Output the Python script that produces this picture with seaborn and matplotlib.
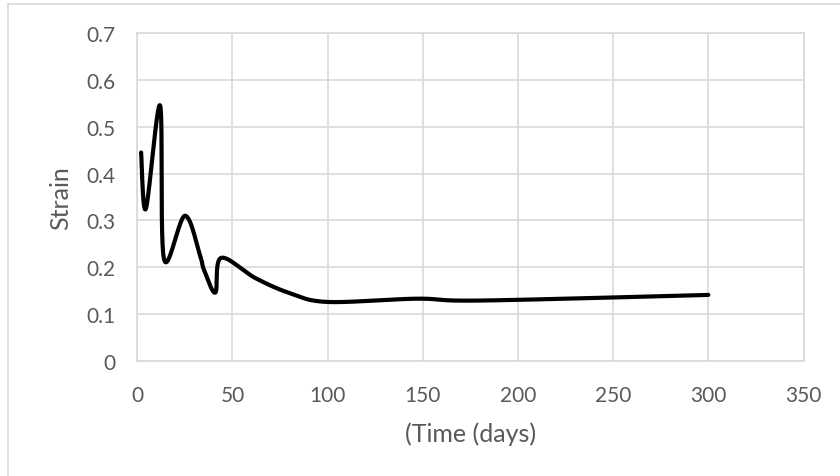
import numpy as np
import pandas as pd
import seaborn as sns
import matplotlib.pyplot as plt
from matplotlib.lines import Line2D

# Data
days = [2, 4.5, 12, 14, 25, 33, 35, 41, 44, 62, 80, 100, 147, 180, 300]
strain = [0.445, 0.325, 0.545, 0.218, 0.31, 0.225, 0.195, 0.146, 0.22, 0.177, 0.145, 0.126, 0.133, 0.129, 0.141]
x_ticks = [0, 50, 100, 150, 200, 250, 300, 350]
y_ticks = [0, 0.1, 0.2, 0.3, 0.4, 0.5, 0.6, 0.7]
y_tick_labels = ["0", "0.1", "0.2", "0.3", "0.4", "0.5", "0.6", "0.7"]


def excel_smooth(xs, ys, n=80):
    """Excel-style smoothed line (Catmull-Rom Bezier through the data points)."""
    P = np.column_stack([xs, ys]).astype(float)
    out = []
    t = np.linspace(0, 1, n)[:, None]
    for i in range(len(P) - 1):
        p0 = P[i - 1] if i > 0 else P[i]
        p1 = P[i]
        p2 = P[i + 1]
        p3 = P[i + 2] if i + 2 < len(P) else P[i + 1]
        c1 = p1 + (p2 - p0) / 6.0
        c2 = p2 - (p3 - p1) / 6.0
        seg = ((1 - t) ** 3) * p1 + 3 * ((1 - t) ** 2) * t * c1 + 3 * (1 - t) * t ** 2 * c2 + t ** 3 * p2
        out.append(seg if i == 0 else seg[1:])
    return np.vstack(out)


curve = excel_smooth(days, strain)
df = pd.DataFrame({"Time": curve[:, 0], "Strain": curve[:, 1]})

sns.set_theme(style="white")
plt.rcParams['font.family'] = ['Lato', 'DejaVu Sans']

fig = plt.figure(figsize=(8.4, 4.77), dpi=100)
ax = fig.add_axes([137.3 / 840, 1 - 362 / 477, (803.5 - 137.3) / 840, (362 - 34) / 477])

sns.lineplot(data=df, x="Time", y="Strain", sort=False, estimator=None,
             color="black", linewidth=3, ax=ax, zorder=3)

ax.set_xlim(0, 350)
ax.set_ylim(0, 0.7)
ax.set_xticks(x_ticks)
ax.set_yticks(y_ticks)
ax.set_yticklabels(y_tick_labels)
ax.grid(True, color="#d9d9d9", linewidth=1.2)
ax.set_axisbelow(True)
for s in ax.spines.values():
    s.set_color("#d9d9d9")
    s.set_linewidth(1.2)
ax.tick_params(axis="y", length=0, labelsize=15, labelcolor="#595959", pad=16)
ax.tick_params(axis="x", length=0, labelsize=15, labelcolor="#595959", pad=17)

ax.set_xlabel("(Time (days)", fontsize=18, color="#595959")
ax.set_ylabel("Strain", fontsize=18, color="#595959")
ax.xaxis.set_label_coords(0.5, -0.185)
ax.yaxis.set_label_coords(-0.1145, 0.5)
ax.yaxis.label.set_va("center")

# outer chart border (partially visible)
fig.add_artist(Line2D([8 / 840, 1], [1 - 4.7 / 477] * 2, color="#d9d9d9", lw=1.2, transform=fig.transFigure))
fig.add_artist(Line2D([8 / 840, 8 / 840], [0, 1 - 4.7 / 477], color="#d9d9d9", lw=1.2, transform=fig.transFigure))

fig.savefig("out.png", dpi=100)
